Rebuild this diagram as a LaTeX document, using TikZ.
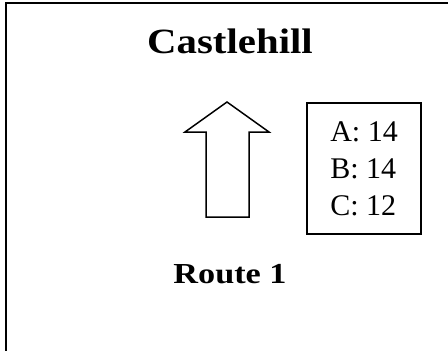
\documentclass[tikz,border=0pt]{standalone}
\usepackage{fontspec}
\setmainfont{Liberation Serif}
\newfontfamily\boldwide[FakeStretch=1.15]{Liberation Serif Bold}
\newfontfamily\boldroute[FakeStretch=1.18]{Liberation Serif Bold}
\begin{document}
\begin{tikzpicture}[x=1pt,y=-1pt,
  frame/.style={line width=2pt,line cap=rect},
  outline/.style={line width=1.5pt,line join=miter},
  titletext/.style={font=\boldwide\fontsize{35.5}{42}\selectfont,anchor=base,inner sep=0pt},
  labeltext/.style={font=\boldroute\fontsize{29}{35}\selectfont,anchor=base,inner sep=0pt},
  countbox/.style={draw,line width=1.5pt,minimum width=114pt,minimum height=131pt,
    align=left,font=\fontsize{30}{37}\selectfont,inner sep=0pt}]
\useasboundingbox (0,0) rectangle (448,351);
\draw[frame] (6,352) -- (6,3) -- (449,3);
\node[titletext] (title) at (230,53) {Castlehill};
\draw[outline] (227,102) -- (269,132) -- (249,132) -- (249,217) -- (206,217)
  -- (206,132) -- (185,132) -- cycle;
\node[countbox] (counts) at (364,168.5) {A: 14\\B: 14\\C: 12};
\node[labeltext] (route) at (230,283) {Route 1};
\end{tikzpicture}
\end{document}
